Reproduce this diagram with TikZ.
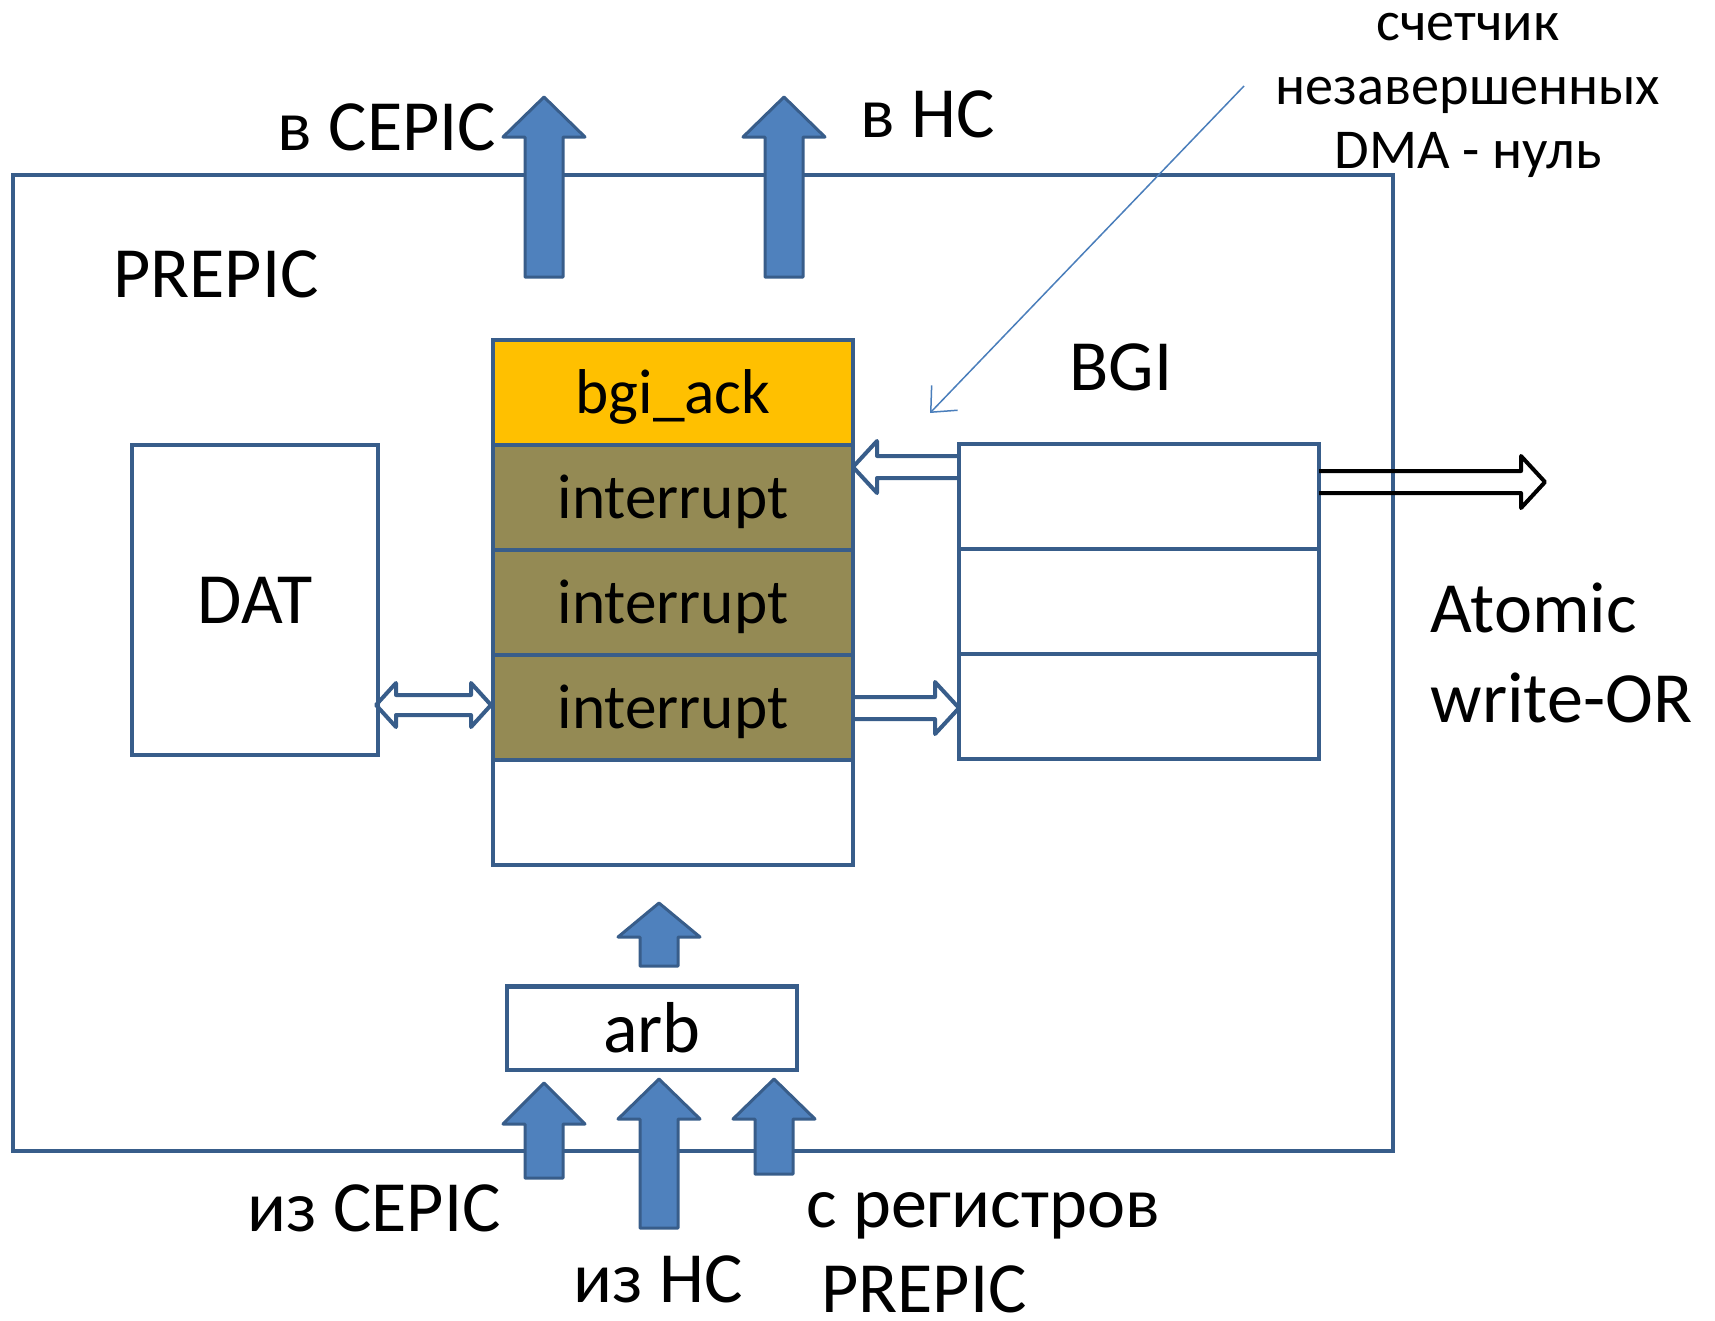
\documentclass[tikz,border=0pt]{standalone}
\usepackage{fontspec}
\setmainfont{Carlito}
\usetikzlibrary{arrows.meta, positioning}

\definecolor{boxline}{HTML}{385D8A}
\definecolor{blockfill}{HTML}{4F81BD}
\definecolor{ackfill}{HTML}{FFC000}
\definecolor{irqfill}{HTML}{948A54}
\definecolor{noteline}{HTML}{4A7EBB}

% fat arrow pointing up: centre x, tip y, head y, tail y
\newcommand{\upblock}[4]{%
  \draw[blockarrow] (#1-19,#4) -- (#1-19,#3) -- (#1-41,#3) -- (#1,#2)
    -- (#1+41,#3) -- (#1+19,#3) -- (#1+19,#4) -- cycle;}

% hollow arrow: [style] tail x, tip x, y
\newcommand{\openarr}[4][]{%
  \pgfmathsetmacro\headx{#3-24*sign(#3-#2)}%
  \draw[openarrow,#1] (#2,#4-11) -- (\headx,#4-11) -- (\headx,#4-26) -- (#3,#4)
    -- (\headx,#4+26) -- (\headx,#4+11) -- (#2,#4+11);}

% hollow arrow with two heads: left tip x, right tip x, y
\newcommand{\openboth}[3]{%
  \draw[openarrow] (#1,#3) -- (#1+20,#3-22) -- (#1+20,#3-10) -- (#2-20,#3-10)
    -- (#2-20,#3-22) -- (#2,#3) -- (#2-20,#3+22) -- (#2-20,#3+10)
    -- (#1+20,#3+10) -- (#1+20,#3+22) -- cycle;}

\begin{document}
\begin{tikzpicture}[
        x=0.01cm, y=-0.01cm,
        font=\fontsize{20.5}{24}\selectfont,
        box/.style={
            draw=boxline,
            line width=0.04cm,
            inner sep=0pt, outer sep=0pt,
            minimum width=3.6cm,
            minimum height=1.05cm
        },
        stackrow/.style={
            box,
            font=\fontsize{18}{20}\selectfont,
            text height=0.55cm, text depth=0.13cm
        },
        lbl/.style={inner sep=0pt, anchor=base},
        note/.style={lbl, font=\fontsize{16}{18}\selectfont},
        blockarrow/.style={
            draw=boxline, fill=blockfill,
            line width=0.03cm, line join=round
        },
        openarrow/.style={
            draw=boxline,
            line width=0.04cm, line join=round
        },
        notearrow/.style={
            -{Straight Barb[length=2mm, width=3.6mm]},
            draw=noteline, line width=0.015cm
        }
    ]
    \useasboundingbox (0,0) rectangle (1715,1320);

    \node[box, minimum width=13.8cm, minimum height=9.76cm] (prepic) at (703,663) {};
    \node[lbl] (prepictext) at (216,297) {PREPIC};

    \node[box, minimum width=2.46cm, minimum height=3.1cm] (dat) at (255,600) {DAT};

    % stack of requests
    \node[stackrow, fill=ackfill] (ack) at (673,392.5) {bgi\_ack};
    \node[stackrow, fill=irqfill, below=0pt of ack] (irqa) {interrupt};
    \node[stackrow, fill=irqfill, below=0pt of irqa] (irqb) {interrupt};
    \node[stackrow, fill=irqfill, below=0pt of irqb] (irqc) {interrupt};
    \node[stackrow, below=0pt of irqc] (free) {};

    % BGI
    \node[box] (bgia) at (1139,496.5) {};
    \node[box, below=0pt of bgia] (bgib) {};
    \node[box, below=0pt of bgib] (bgic) {};
    \node[lbl] (bgitext) at (1121,390) {BGI};

    \node[box, minimum width=2.9cm, minimum height=0.83cm] (arb) at (652,1028) {arb};

    \upblock{544}{97}{137}{277}
    \upblock{784}{97}{137}{277}
    \upblock{659}{903}{937}{966}
    \upblock{544}{1083}{1124}{1178}
    \upblock{659}{1079}{1119}{1228}
    \upblock{774}{1079}{1119}{1174}

    \openboth{376}{491}{705}
    \openarr{959}{853}{467}
    \openarr{853}{959}{708}
    \openarr[draw=black]{1319}{1545}{482}

    \node[lbl] (tocepic) at (387,150) {в CEPIC};
    \node[lbl] (tohc) at (928,137) {в НС};
    \node[lbl] (fromcepic) at (374,1231) {из CEPIC};
    \node[lbl] (fromhc) at (658,1302) {из НС};
    \node[lbl] (fromreg) at (983,1227) {с регистров};
    \node[lbl] (fromprepic) at (924,1312) {PREPIC};
    \node[lbl, anchor=base west] (atomic) at (1430,632) {Atomic};
    \node[lbl, anchor=base west] (writeor) at (1430,722) {write-OR};

    % counter note
    \node[note] (notea) at (1468,40) {счетчик};
    \node[note] (noteb) at (1468,104) {незавершенных};
    \node[note] (notec) at (1468,168) {DMA - нуль};
    \coordinate (notefrom) at (1244,86);
    \coordinate (noteto) at (930,413);
    \draw[notearrow] (notefrom) -- (noteto);

\end{tikzpicture}
\end{document}
